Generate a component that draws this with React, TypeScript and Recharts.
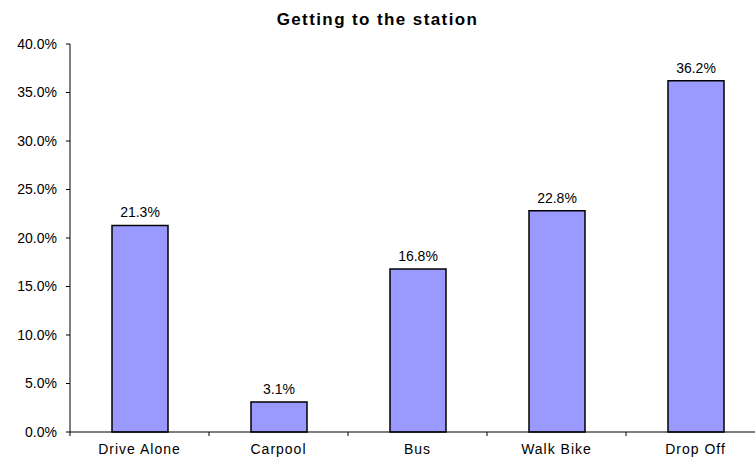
import { BarChart, Bar, XAxis, YAxis, LabelList } from "recharts";

const modes = ["Drive Alone", "Carpool", "Bus", "Walk Bike", "Drop Off"];
const shares = [21.3, 3.1, 16.8, 22.8, 36.2];
const yTicks = [0, 5, 10, 15, 20, 25, 30, 35, 40];

const data = modes.map((mode, i) => ({ mode, share: shares[i] }));

const font = "'Liberation Sans', Arial, sans-serif";
const pct = (v: number) => `${Number(v).toFixed(1)}%`;

// category label plus a small tick on the left edge of each band
function ModeTick(props: any) {
  const { x, y, payload } = props;
  const edge = x - (payload.offset || 0);
  return (
    <g>
      <line x1={edge} y1={y} x2={edge} y2={y + 4} stroke="#000" />
      <text
        x={x}
        y={y + 22}
        textAnchor="middle"
        fontSize={14}
        letterSpacing={1}
        fill="#000"
        fontFamily={font}
      >
        {payload.value}
      </text>
    </g>
  );
}

export default function App() {
  return (
    <div
      style={{
        position: "absolute",
        left: 0,
        top: 0,
        width: 755,
        height: 457,
        overflow: "hidden",
        background: "#fff",
        fontFamily: font,
      }}
    >
      <div
        style={{
          position: "absolute",
          top: 11,
          left: 0,
          width: 755,
          textAlign: "center",
          fontSize: 17,
          lineHeight: "17px",
          fontWeight: "bold",
          letterSpacing: 1.4,
          color: "#000",
        }}
      >
        Getting to the station
      </div>
      <BarChart
        width={765}
        height={457}
        data={data}
        margin={{ top: 44, right: 0, bottom: 0, left: 0 }}
      >
        <XAxis
          dataKey="mode"
          height={25}
          axisLine={{ stroke: "#000" }}
          tickLine={false}
          tickSize={0}
          tickMargin={0}
          interval={0}
          tick={<ModeTick />}
        />
        <YAxis
          width={70}
          domain={[0, 40]}
          ticks={yTicks}
          interval={0}
          tickFormatter={pct}
          axisLine={{ stroke: "#000" }}
          tickLine={{ stroke: "#000" }}
          tickSize={4}
          tickMargin={9}
          tick={{ fill: "#000", fontSize: 14, fontFamily: font }}
        />
        <Bar
          dataKey="share"
          fill="#9999FF"
          stroke="#000"
          strokeWidth={1.5}
          barSize={56}
          isAnimationActive={false}
        >
          <LabelList
            dataKey="share"
            position="top"
            offset={8}
            formatter={pct}
            fill="#000"
            fontSize={14}
            fontFamily={font}
          />
        </Bar>
      </BarChart>
    </div>
  );
}
